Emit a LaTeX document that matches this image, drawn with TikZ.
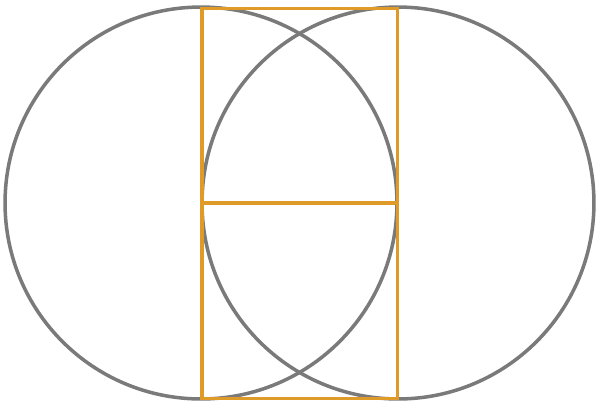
\documentclass[tikz,border=0pt]{standalone}
\usepackage{tikz}
\definecolor{ringgray}{RGB}{122,122,122}
\definecolor{boxorange}{RGB}{224,154,40}
\tikzset{ring/.style={draw=ringgray,line width=2pt},
  frame/.style={draw=boxorange,line width=2.2pt}}
\begin{document}
\begin{tikzpicture}[x=0.02cm,y=-0.02cm]
\useasboundingbox (0,0) rectangle (600,407);
\coordinate (cl) at (201,203);
\coordinate (cr) at (398,203);
\draw[ring] (cl) circle[radius=3.92cm];
\draw[ring] (cr) circle[radius=3.92cm];
\draw[frame] (202,8.5) rectangle (397.5,398.5);
\draw[frame] (202,203) -- (397.5,203);
\end{tikzpicture}
\end{document}
